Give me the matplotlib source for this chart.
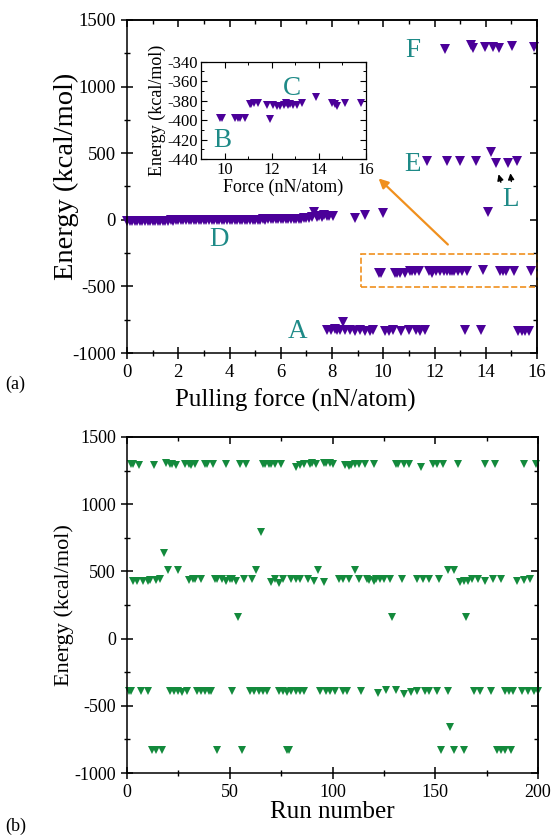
import matplotlib
matplotlib.use("Agg")
import matplotlib.pyplot as plt
from matplotlib.patches import Rectangle
from matplotlib.ticker import MultipleLocator

plt.rcParams['font.family'] = ['Liberation Serif', 'DejaVu Serif']
plt.rcParams['axes.unicode_minus'] = False

PURPLE = '#4b0099'
GREEN = '#138a3c'
TEAL = '#1e8a87'
ORANGE = '#f0901e'

# ---------------- panel (a) data ----------------
# D branch (near zero energy)
D_force = [0.0, 0.1, 0.2, 0.3, 0.4, 0.5, 0.6, 0.7, 0.8, 0.9,
           1.0, 1.1, 1.2, 1.3, 1.4, 1.5, 1.6, 1.7, 1.8, 1.9,
           2.0, 2.1, 2.2, 2.3, 2.4, 2.5, 2.6, 2.7, 2.8, 2.9,
           3.0, 3.1, 3.2, 3.3, 3.4, 3.5, 3.6, 3.7, 3.8, 3.9,
           4.0, 4.1, 4.2, 4.3, 4.4, 4.5, 4.6, 4.7, 4.8, 4.9,
           5.0, 5.1, 5.2, 5.3, 5.4, 5.5, 5.6, 5.7, 5.8, 5.9,
           6.0, 6.1, 6.2, 6.3, 6.4, 6.5, 6.6, 6.7, 6.8, 6.9,
           7.0, 7.1, 7.2, 7.3, 7.4, 7.5, 7.6, 7.7, 7.8, 7.9,
           8.05, 8.9, 9.3, 10.0]
D_energy = [-8, -8, -9, -8, -8, -7, -8, -8, -7, -7,
            -7, -6, -7, -6, -6, -6, -6, -5, -6, -5,
            -5, -5, -4, -5, -4, -4, -4, -4, -3, -4,
            -3, -3, -3, -2, -3, -2, -2, -2, -1, -2,
            -1, -1, 0, -1, 0, 0, 1, 0, 1, 2,
            1, 2, 2, 3, 2, 3, 4, 3, 4, 5,
            5, 6, 5, 6, 7, 6, 8, 7, 9, 10,
            11, 12, 20, 55, 22, 28, 20, 35, 25, 30,
            25, 12, 37, 50]
# A branch
A_force = [7.8, 7.95, 8.1, 8.2, 8.3, 8.42, 8.51, 8.7, 8.9, 9.09, 9.29, 9.48, 9.61,
           10.07, 10.24, 10.39, 10.68, 11.0, 11.27, 11.43, 11.63,
           13.19, 13.8, 15.25, 15.4, 15.55, 15.7]
A_energy = [-825, -830, -820, -830, -830, -765, -830, -830, -835, -830, -835, -835, -830,
            -835, -835, -830, -835, -825, -830, -835, -830,
            -830, -830, -835, -835, -835, -835]
# B / C branch (also shown in inset)
BC_force = [9.82, 9.9, 10.46, 10.55, 10.64, 10.85, 11.06, 11.12, 11.23, 11.4,
            11.79, 11.91, 12.05, 12.22, 12.36, 12.5, 12.61, 12.68, 12.78, 12.92,
            13.07, 13.28, 13.88, 14.55, 14.69, 14.79, 15.11, 15.77]
BC_energy = [-398, -398, -398, -398, -398, -398, -383, -383, -382, -382,
             -385, -399, -385, -386, -386, -385, -382, -385, -383, -385,
             -385, -382, -376, -382, -383, -386, -382, -382]
# E branch
E_force = [11.7, 12.48, 13.0, 13.61, 14.1, 14.2, 14.39, 14.88, 15.21]
E_energy = [442, 442, 442, 442, 55, 512, 425, 425, 442]
# F branch
F_force = [12.41, 13.41, 13.52, 13.97, 14.3, 14.53, 15.01, 15.88]
F_energy = [1283, 1313, 1293, 1300, 1300, 1288, 1305, 1295]

# ---------------- panel (b) data ----------------
run_1300 = [2, 3, 6, 13, 19, 21, 22, 24, 28, 30, 31, 33, 38, 39, 42, 48, 55, 58,
            66, 67, 69, 70, 72, 75, 82, 84, 86, 89, 90, 92, 96, 97, 99, 100, 106, 108,
            109, 111, 113, 116, 120, 131, 132, 135, 137, 143, 149, 151, 154, 161,
            174, 179, 193, 199]
e_1300 = [1300, 1300, 1295, 1290, 1305, 1300, 1300, 1295, 1300, 1300, 1295, 1300, 1300, 1300,
          1300, 1300, 1300, 1300, 1300, 1300, 1300, 1300, 1300, 1300, 1280, 1290, 1300, 1300,
          1305, 1300, 1310, 1305, 1310, 1300, 1290, 1285, 1295, 1300, 1300, 1300, 1300,
          1300, 1300, 1300, 1300, 1280, 1300, 1300, 1300, 1300, 1300, 1300, 1300, 1300]
run_440 = [3, 5, 8, 10, 11, 14, 16, 18, 20, 25, 30, 32, 33, 36, 43, 44, 46, 48, 50,
           51, 53, 57, 61, 63, 65, 70, 72, 74, 76, 80, 82, 84, 88, 91, 93, 96, 103, 105,
           108, 111, 113, 117, 118, 120, 121, 123, 125, 128, 134, 141, 144, 147, 152,
           156, 159, 162, 164, 166, 168, 171, 174, 178, 182, 190, 193, 196]
e_440 = [430, 425, 430, 430, 435, 435, 440, 640, 510, 510, 435, 440, 440, 440, 440, 440,
         440, 430, 440, 440, 430, 440, 440, 510, 790, 420, 440, 415, 440, 440, 440, 440,
         440, 425, 510, 420, 440, 440, 440, 510, 440, 440, 435, 430, 440, 440, 440, 440,
         440, 440, 440, 440, 440, 510, 510, 420, 430, 430, 440, 440, 425, 440, 440, 425,
         435, 440]
run_150 = [54, 129, 165]
e_150 = [160, 160, 160]
run_m390 = [1, 2, 7, 10, 21, 23, 25, 27, 29, 34, 36, 38, 40, 41, 51, 60, 62, 64, 66,
            68, 74, 76, 78, 80, 82, 84, 86, 94, 97, 99, 101, 105, 107, 114, 122, 126,
            131, 135, 138, 141, 145, 147, 151, 156, 169, 172, 177, 184, 186, 188, 192,
            195, 198, 200]
e_m390 = [-390, -390, -390, -390, -390, -390, -390, -395, -390, -390, -390, -390, -390, -390,
          -390, -390, -390, -390, -390, -390, -390, -390, -395, -390, -390, -390, -390,
          -390, -390, -390, -390, -390, -390, -390, -405, -380, -380, -410, -395, -390,
          -390, -390, -390, -390, -390, -390, -390, -390, -390, -390, -390, -390, -390, -390]
run_m650 = [157]
e_m650 = [-660]
run_m830 = [12, 14, 17, 44, 56, 78, 79, 153, 159, 164, 180, 182, 184, 187]
e_m830 = [-830, -830, -830, -830, -830, -830, -830, -830, -830, -830, -830, -830, -830, -830]

# ---------------- figure ----------------
W, H = 554, 836
fig = plt.figure(figsize=(W / 100, H / 100), dpi=100)


def fx(px):
    return px / W


def fy(py):
    return 1 - py / H


ax1 = fig.add_axes([fx(127), fy(353), fx(537) - fx(127), fy(20) - fy(353)])
ax2 = fig.add_axes([fx(127), fy(773), fx(538) - fx(127), fy(437) - fy(773)])


def style_axes(ax, xmaj, xmin, ymaj, ymin, lab):
    for s in ax.spines.values():
        s.set_linewidth(1.1)
    ax.xaxis.set_major_locator(MultipleLocator(xmaj))
    ax.xaxis.set_minor_locator(MultipleLocator(xmin))
    ax.yaxis.set_major_locator(MultipleLocator(ymaj))
    ax.yaxis.set_minor_locator(MultipleLocator(ymin))
    ax.tick_params(which='major', direction='inout', length=9, width=1.1, labelsize=lab)
    ax.tick_params(which='minor', direction='inout', length=5, width=1.0)
    # top and right ticks point inward
    sx = ax.secondary_xaxis('top')
    sx.xaxis.set_major_locator(MultipleLocator(xmaj))
    sx.xaxis.set_minor_locator(MultipleLocator(xmin))
    sx.tick_params(which='major', direction='in', length=5, width=1.1, labeltop=False)
    sx.tick_params(which='minor', direction='in', length=3, width=1.0)
    sx.spines['top'].set_linewidth(1.1)
    sy = ax.secondary_yaxis('right')
    sy.yaxis.set_major_locator(MultipleLocator(ymaj))
    sy.yaxis.set_minor_locator(MultipleLocator(ymin))
    sy.tick_params(which='major', direction='in', length=5, width=1.1, labelright=False)
    sy.tick_params(which='minor', direction='in', length=3, width=1.0)
    sy.spines['right'].set_linewidth(1.1)


# panel (a)
mk = dict(marker='v', linestyle='none', color=PURPLE, ms=6.5, mew=0, clip_on=False)
ax1.plot(D_force, D_energy, **mk)
ax1.plot(A_force, A_energy, **mk)
ax1.plot(BC_force, BC_energy, **mk)
ax1.plot(E_force, E_energy, **mk)
ax1.plot(F_force, F_energy, **mk)
ax1.set_xlim(0, 16)
ax1.set_ylim(-1000, 1500)
style_axes(ax1, 2, 1, 500, 250, 13.5)
ax1.set_xlabel('Pulling force (nN/atom)', fontsize=18)
ax1.xaxis.set_label_coords(0.41, -0.108)
ax1.set_ylabel('Energy (kcal/mol)', fontsize=20.5)
ax1.yaxis.set_label_coords(-0.118, 0.53)

lbl = dict(color=TEAL, fontsize=19.5, ha='center', va='baseline')
ax1.text(11.16, 1223, 'F', **lbl)
ax1.text(11.14, 370, 'E', **lbl)
ax1.text(14.95, 105, 'L', **lbl)
ax1.text(3.58, -195, 'D', **lbl)
ax1.text(6.64, -887, 'A', **lbl)

ax1.add_patch(Rectangle((9.12, -505), 16 - 9.12, 245, fill=False, edgecolor=ORANGE,
                        linestyle='--', linewidth=1.2, clip_on=False))
ax1.annotate('', xy=(9.74, 325), xytext=(12.6, -200),
             arrowprops=dict(arrowstyle='-|>', color=ORANGE, lw=1.6, mutation_scale=14))
ax1.annotate('', xy=(14.47, 362), xytext=(14.62, 262),
             arrowprops=dict(arrowstyle='-|>', color='black', lw=1.0, mutation_scale=9))
ax1.annotate('', xy=(14.95, 370), xytext=(15.01, 267),
             arrowprops=dict(arrowstyle='-|>', color='black', lw=1.0, mutation_scale=9))

# inset
axi = fig.add_axes([fx(201), fy(159), fx(366) - fx(201), fy(61.7) - fy(159)])
axi.plot(BC_force, BC_energy, marker='v', linestyle='none', color=PURPLE, ms=6, mew=0)
axi.set_xlim(9, 16)
axi.set_ylim(-440, -340)
for s in axi.spines.values():
    s.set_linewidth(0.9)
axi.xaxis.set_major_locator(MultipleLocator(2))
axi.xaxis.set_minor_locator(MultipleLocator(1))
axi.yaxis.set_major_locator(MultipleLocator(20))
axi.yaxis.set_minor_locator(MultipleLocator(10))
axi.tick_params(which='both', direction='in', top=True, right=True, labelsize=12, pad=2)
axi.tick_params(which='major', length=4, width=0.8)
axi.tick_params(which='minor', length=2, width=0.7)
axi.set_xlabel('Force (nN/atom)', fontsize=13, labelpad=1)
axi.set_ylabel('Energy (kcal/mol)', fontsize=13, labelpad=1)
axi.text(12.85, -374.2, 'C', **lbl)
axi.text(9.89, -428, 'B', **lbl)

# panel (b)
mk2 = dict(marker='v', linestyle='none', color=GREEN, ms=6, mew=0, clip_on=False)
ax2.plot(run_1300, e_1300, **mk2)
ax2.plot(run_440, e_440, **mk2)
ax2.plot(run_150, e_150, **mk2)
ax2.plot(run_m390, e_m390, **mk2)
ax2.plot(run_m650, e_m650, **mk2)
ax2.plot(run_m830, e_m830, **mk2)
ax2.set_xlim(0, 200)
ax2.set_ylim(-1000, 1500)
style_axes(ax2, 50, 25, 500, 250, 13)
ax2.set_xlabel('Run number', fontsize=18, labelpad=0)
ax2.set_ylabel('Energy (kcal/mol)', fontsize=16)
ax2.yaxis.set_label_coords(-0.128, 0.5)

fig.text(fx(5), fy(389), '(a)', fontsize=13, va='baseline')
fig.text(fx(5), fy(831), '(b)', fontsize=13, va='baseline')

fig.savefig('out.png', dpi=100)
